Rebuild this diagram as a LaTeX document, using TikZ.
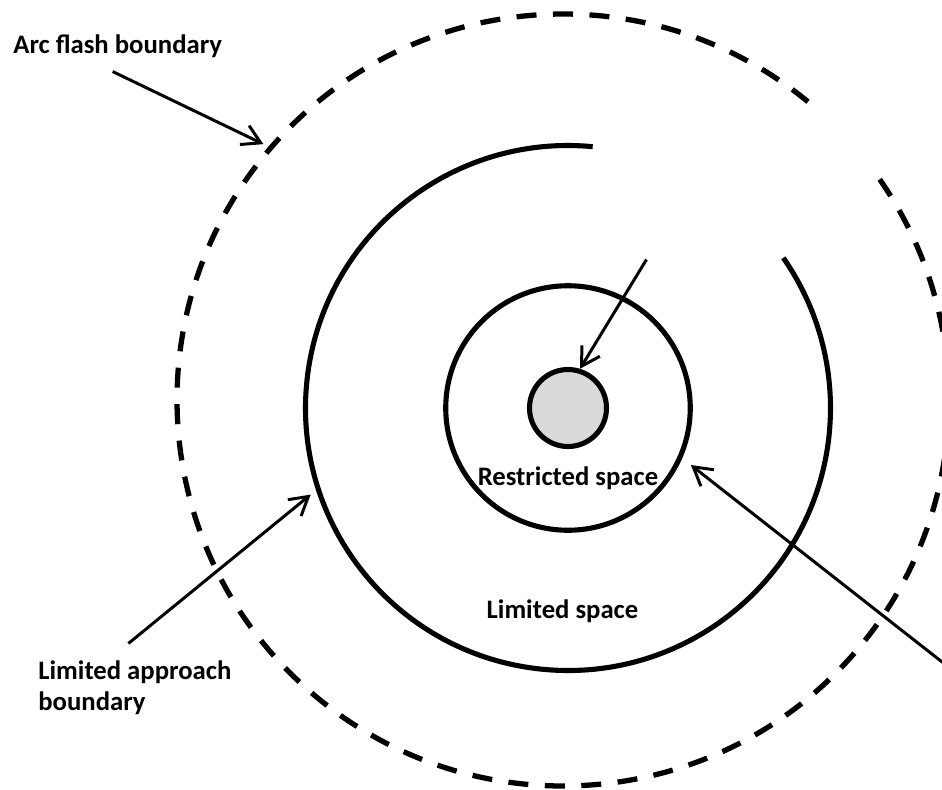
\documentclass[tikz,border=0pt]{standalone}
\usepackage{fontspec}
\setmainfont{Carlito}
\usetikzlibrary{arrows.meta, positioning, calc}

\begin{document}
\begin{tikzpicture}[
  ring/.style     = {line width=2.9pt},
  dashring/.style = {line width=3pt, dash pattern=on 0.4cm off 0.33cm},
  disc/.style     = {circle, draw=black, line width=2.9pt, inner sep=0pt},
  arr/.style      = {-{Straight Barb[length=3.6mm, width=4.2mm]}, line width=1.7pt},
  lbl/.style      = {font=\fontsize{15.2}{17.9}\selectfont\bfseries, inner sep=0pt, align=left}
]
% ── Frame ─────────────────────────────────────────────────────────────────────
\useasboundingbox (0,0) rectangle (18.84,-15.78);

% ── Centres ───────────────────────────────────────────────────────────────────
\coordinate (c)  at (11.36,-8.16);
\coordinate (fc) at (11.26,-8.00);

% ── Boundaries ────────────────────────────────────────────────────────────────
\draw[dashring] ($(fc)+(50.6:7.72)$) arc[start angle=50.6, end angle=395.7, radius=7.72];
\draw[ring]     ($(c)+(84.6:5.25)$)  arc[start angle=84.6, end angle=394.9, radius=5.25];
\node[disc, minimum size=4.89cm] (inner) at (c) {};
\node[disc, minimum size=1.54cm, fill=gray!30] (core) at (c) {};

% ── Labels ────────────────────────────────────────────────────────────────────
\node[lbl, anchor=base west]  (afb)        at (0.26,-1.07)   {Arc flash boundary};
\node[lbl, anchor=north west] (lab)        at (0.76,-13.20)  {Limited approach\\boundary};
\node[lbl, anchor=base]       (restricted) at (11.36,-9.70)  {Restricted space};
\node[lbl, anchor=base]       (limited)    at (11.25,-12.37) {Limited space};

% ── Arrow ends ────────────────────────────────────────────────────────────────
\coordinate[below=0.27cm of afb, xshift=-0.1cm]  (afbFrom);
\coordinate (afbTip) at ($(fc)+(139.5:7.88)$);
\coordinate[above=0.33cm of lab, xshift=-0.13cm] (labFrom);
\coordinate (labTip) at ($(c)+(198.6:5.43)$);
\coordinate (coreFrom) at (12.93,-5.19);
\coordinate (restrictedFrom) at (19.2,-13.52);
\coordinate (restrictedTip)  at ($(c)+(-24.9:2.71)$);

% ── Arrows ────────────────────────────────────────────────────────────────────
\draw[arr] (afbFrom)        -- (afbTip);
\draw[arr] (coreFrom)       -- (core.73);
\draw[arr] (labFrom)        -- (labTip);
\draw[arr] (restrictedFrom) -- (restrictedTip);
\end{tikzpicture}
\end{document}
